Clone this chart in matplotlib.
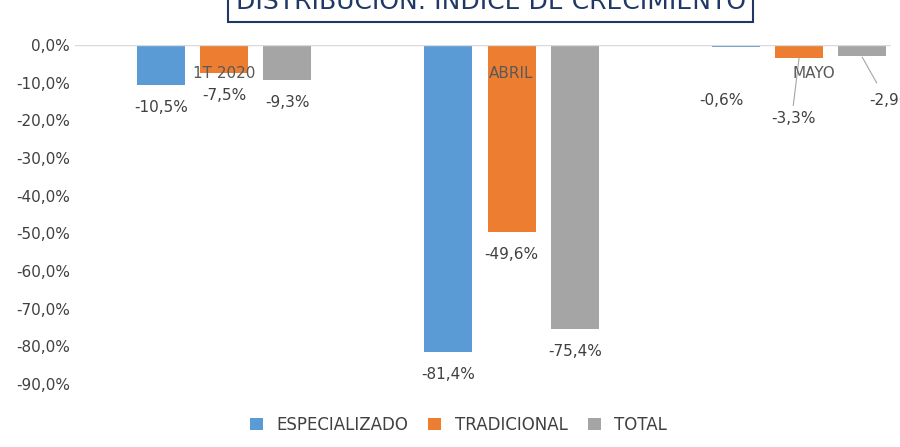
import numpy as np
import matplotlib.pyplot as plt

categories = ["1T 2020", "ABRIL", "MAYO"]
especializado = [-10.5, -81.4, -0.6]
tradicional = [-7.5, -49.6, -3.3]
total = [-9.3, -75.4, -2.96]
label_text = [["-10,5%", "-7,5%", "-9,3%"],
              ["-81,4%", "-49,6%", "-75,4%"],
              ["-0,6%", "-3,3%", "-2,96%"]]
yticks = np.arange(0, -91, -10)

colors = ["#5b9bd5", "#ed7d31", "#a5a5a5"]
names = ["ESPECIALIZADO", "TRADICIONAL", "TOTAL"]
series = [especializado, tradicional, total]

fig = plt.figure(figsize=(9, 4.47), dpi=100)
ax = fig.add_axes([0.083, 0.141, 0.907, 0.758])

x = np.arange(len(categories))
w = 0.167
offs = [-0.22, 0, 0.22]
for i, (vals, c, n) in enumerate(zip(series, colors, names)):
    ax.bar(x + offs[i], vals, w, color=c, label=n)

# data labels
for j in range(2):
    for i, vals in enumerate(series):
        ax.text(x[j] + offs[i], vals[j] - 4, label_text[j][i],
                ha="center", va="top", fontsize=11, color="#404040")
# MAYO labels with offsets
ax.text(x[2] + offs[0] - 0.05, -14.8, label_text[2][0], ha="center", va="center", fontsize=11, color="#404040")
ax.plot([x[2] + offs[1], x[2] + offs[1] - 0.02], [-3.5, -16], color="#a5a5a5", lw=0.8)
ax.text(x[2] + offs[1] - 0.02, -19.4, label_text[2][1], ha="center", va="center", fontsize=11, color="#404040")
ax.plot([x[2] + offs[2], x[2] + offs[2] + 0.05], [-3.2, -10], color="#a5a5a5", lw=0.8)
ax.text(x[2] + offs[2] + 0.12, -14.6, label_text[2][2], ha="center", va="center", fontsize=11, color="#404040")

# category labels near top
for j, cat in enumerate(categories):
    ax.text(x[j] + (0.0 if j < 2 else 0.05), -7.5, cat, ha="center", va="center",
            fontsize=11, color="#595959")

ax.set_ylim(-90, 0)
ax.set_xlim(-0.52, 2.32)
ax.set_yticks(yticks)
ax.set_yticklabels([f"{v:.1f}%".replace(".", ",") for v in yticks], fontsize=11, color="#404040")
ax.set_xticks([])
for s in ["top", "right", "bottom", "left"]:
    ax.spines[s].set_visible(False)
ax.axhline(0, color="#d9d9d9", lw=1)
ax.tick_params(axis="y", length=0)

ax.legend(loc="upper center", bbox_to_anchor=(0.47, -0.05), ncol=3, frameon=False,
          fontsize=12, handlelength=0.8, handleheight=0.8, columnspacing=1.2,
          labelcolor="#404040")

fig.text(0.545, 0.995, "DISTRIBUCIÓN: ÍNDICE DE CRECIMIENTO", ha="center", va="center",
         fontsize=18, color="#1f3864",
         bbox=dict(boxstyle="square,pad=0.3", fc="white", ec="#1f3864", lw=1.5))

fig.savefig("out.png", dpi=100)
